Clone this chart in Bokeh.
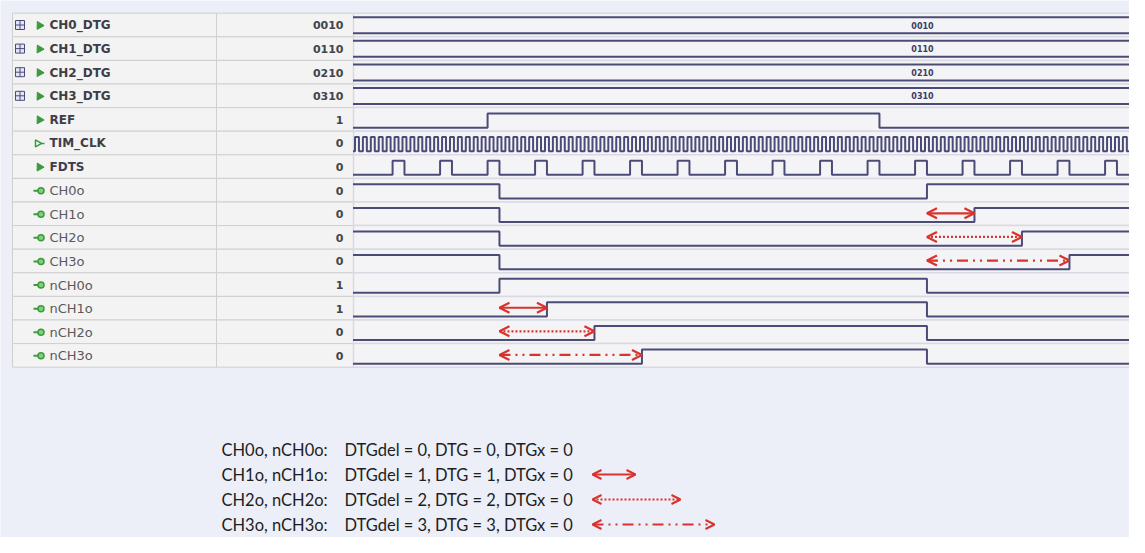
from bokeh.plotting import figure
from bokeh.models import Range1d, Arrow, OpenHead
from bokeh.core.properties import value
from bokeh.embed import file_html
from bokeh.resources import INLINE

# ---------------- data ----------------
signal_names = ["CH0_DTG", "CH1_DTG", "CH2_DTG", "CH3_DTG", "REF", "TIM_CLK", "FDTS",
                "CH0o", "CH1o", "CH2o", "CH3o", "nCH0o", "nCH1o", "nCH2o", "nCH3o"]
signal_values = ["0010", "0110", "0210", "0310", "1", "0", "0",
                 "0", "0", "0", "0", "1", "1", "0", "0"]
signal_kinds = ["bus", "bus", "bus", "bus", "in", "clk", "in",
                "out", "out", "out", "out", "out", "out", "out", "out"]
bus_values = ["0010", "0110", "0210", "0310"]

# time measured in TIM_CLK periods
clk_period = 1.0
clk_phase = 0.25
ref_init = 0
ref_edges = [17, 66.5]
fdts_rise = [5, 11, 17, 23, 29, 35, 41, 47, 53, 59, 65, 71, 77, 83, 89, 95]
fdts_high = 1.5
out_names = ["CH0o", "CH1o", "CH2o", "CH3o", "nCH0o", "nCH1o", "nCH2o", "nCH3o"]
out_init = [1, 1, 1, 1, 0, 0, 0, 0]
out_edges = [[18.5, 72.5], [18.5, 78.5], [18.5, 84.5], [18.5, 90.5],
             [18.5, 72.5], [24.5, 72.5], [30.5, 72.5], [36.5, 72.5]]

# dead-time arrows
dt_rows = ["CH1o", "CH2o", "CH3o", "nCH1o", "nCH2o", "nCH3o"]
dt_start = [72.5, 72.5, 72.5, 18.5, 18.5, 18.5]
dt_end = [78.5, 84.5, 90.5, 24.5, 30.5, 36.5]
dt_style = ["solid", "dotted", "dashdot", "solid", "dotted", "dashdot"]

legend_labels = ["CH0o, nCH0o:", "CH1o, nCH1o:", "CH2o, nCH2o:", "CH3o, nCH3o:"]
legend_desc = ["DTGdel = 0, DTG = 0, DTGx = 0", "DTGdel = 1, DTG = 1, DTGx = 0",
               "DTGdel = 2, DTG = 2, DTGx = 0", "DTGdel = 3, DTG = 3, DTGx = 0"]
legend_style = [None, "solid", "dotted", "dashdot"]

# ---------------- layout helpers (page pixels -> data units) ----------------
X0, XS = 360.5, 47.5 / 6.0      # px of t=0, px per clock period
Y0, YS = 20.7, 23.6             # px of row 0 top, px per row


def px2t(px):
    return (px - X0) / XS


def py2r(py):
    return (py - Y0) / YS


W, H = 1129, 537
p = figure(width=W, height=H, output_backend="svg", toolbar_location=None,
           x_range=Range1d(px2t(8), px2t(8 + W)), y_range=Range1d(py2r(8 + H), py2r(8)),
           min_border=0, x_axis_location=None, y_axis_location=None)
p.grid.visible = False
p.outline_line_color = None
BG = "#eceff7"
p.background_fill_color = BG
p.border_fill_color = BG

n = len(signal_names)
rows = list(range(n))
t_end = px2t(1160)

WAVE = "#4b4b78"
RED = "#d8332c"
GREEN = "#3c9a3c"

# table cells
p.quad(left=[px2t(20)] * n, right=[px2t(224)] * n, top=rows, bottom=[r + 1 for r in rows],
       fill_color="#f3f3f3", line_color="#cfcfcf", line_width=1)
p.quad(left=[px2t(224)] * n, right=[px2t(361)] * n, top=rows, bottom=[r + 1 for r in rows],
       fill_color="#f3f3f3", line_color="#cfcfcf", line_width=1)
p.quad(left=[px2t(361)] * n, right=[t_end] * n, top=rows, bottom=[r + 1 for r in rows],
       fill_color="#f4f4f6", line_color="#d9d9e3", line_width=1.5)

# names / values
top_rows = [i for i, k in enumerate(signal_kinds) if k != "out"]
o_rows = [i for i, k in enumerate(signal_kinds) if k == "out"]
p.text(x=[px2t(57)] * len(top_rows), y=[r + 0.52 for r in top_rows],
       text=[signal_names[i] for i in top_rows], text_font=value("DejaVu Sans"),
       text_font_size="12px", text_font_style="bold", text_color="#3e3e48",
       text_baseline="middle", text_align="left")
p.text(x=[px2t(57)] * len(o_rows), y=[r + 0.52 for r in o_rows],
       text=[signal_names[i] for i in o_rows], text_font=value("DejaVu Sans"),
       text_font_size="13px", text_color="#5a5a5a",
       text_baseline="middle", text_align="left")
p.text(x=[px2t(351)] * n, y=[r + 0.52 for r in rows], text=signal_values,
       text_font=value("DejaVu Sans"), text_font_size="11px", text_font_style="bold",
       text_color="#44444c", text_baseline="middle", text_align="right")

# icons
bus_rows = [i for i, k in enumerate(signal_kinds) if k == "bus"]
in_rows = [i for i, k in enumerate(signal_kinds) if k in ("bus", "in")]
clk_rows = [i for i, k in enumerate(signal_kinds) if k == "clk"]
p.scatter(x=[px2t(27.5)] * len(bus_rows), y=[r + 0.5 for r in bus_rows], marker="square_cross",
          size=9, line_color="#4a4a7a", fill_color="#e4e7f3", line_width=1)
p.scatter(x=[px2t(47)] * len(in_rows), y=[r + 0.52 for r in in_rows], marker="triangle",
          size=8, angle=0.5, line_color=GREEN, fill_color=GREEN)
p.segment(x0=[px2t(41)] * len(o_rows), x1=[px2t(46)] * len(o_rows),
          y0=[r + 0.52 for r in o_rows], y1=[r + 0.52 for r in o_rows], line_color=GREEN, line_width=2)
p.scatter(x=[px2t(48.5)] * len(o_rows), y=[r + 0.52 for r in o_rows], marker="circle",
          size=6, line_color=GREEN, fill_color="#7fcf7f", line_width=1.5)
p.scatter(x=[px2t(45)] * len(clk_rows), y=[r + 0.52 for r in clk_rows], marker="triangle",
          size=7, angle=-1.5708, line_color=GREEN, fill_color="#f3f3f3", line_width=1.5)
p.segment(x0=[px2t(48)] * len(clk_rows), x1=[px2t(52)] * len(clk_rows),
          y0=[r + 0.52 for r in clk_rows], y1=[r + 0.52 for r in clk_rows], line_color=GREEN, line_width=1.5)


# ---------------- waveforms ----------------
def wave(init, edges, row, hi=0.25, lo=0.85):
    lvl = init
    xs, ys = [0.0], [row + (hi if lvl else lo)]
    for e in edges:
        xs += [e, e]
        ys += [row + (hi if lvl else lo)]
        lvl = 1 - lvl
        ys += [row + (hi if lvl else lo)]
    xs.append(t_end)
    ys.append(row + (hi if lvl else lo))
    return xs, ys


wx, wy = [], []
for r in bus_rows:
    wx += [[0, t_end], [0, t_end]]
    wy += [[r + 0.17, r + 0.17], [r + 0.85, r + 0.85]]
ri = signal_names.index("REF")
a, b = wave(ref_init, ref_edges, ri)
wx.append(a); wy.append(b)
ci = signal_names.index("TIM_CLK")
clk_edges = []
t = clk_phase
while t < t_end:
    clk_edges += [t, t + clk_period / 2]
    t += clk_period
a, b = wave(0, clk_edges, ci)
wx.append(a); wy.append(b)
fi = signal_names.index("FDTS")
f_edges = []
for r_ in fdts_rise:
    f_edges += [r_, r_ + fdts_high]
a, b = wave(0, f_edges, fi)
wx.append(a); wy.append(b)
for nm, ini, ed in zip(out_names, out_init, out_edges):
    a, b = wave(ini, ed, signal_names.index(nm))
    wx.append(a); wy.append(b)

p.multi_line(xs=wx, ys=wy, line_color=WAVE, line_width=2)

p.text(x=[px2t(930)] * len(bus_rows), y=[r + 0.5 for r in bus_rows], text=bus_values,
       text_font=value("DejaVu Sans"), text_font_size="8px", text_font_style="bold",
       text_color="#3c3c66", text_align="center", text_baseline="middle")

DASH = {"solid": "solid", "dotted": "2 2", "dashdot": "11 5 2 5 2 5"}

for nm, s, e, st in zip(dt_rows, dt_start, dt_end, dt_style):
    r = signal_names.index(nm)
    p.add_layout(Arrow(x_start=s, x_end=e, y_start=r + 0.48, y_end=r + 0.48,
                       line_color=RED, line_width=2.2, line_dash=DASH[st],
                       start=OpenHead(size=10, line_color=RED, line_width=2.2),
                       end=OpenHead(size=10, line_color=RED, line_width=2.2)))

# ---------------- legend ----------------
leg_y = [py2r(457), py2r(482), py2r(507), py2r(532)]
p.text(x=[px2t(229)] * 4, y=leg_y, text=legend_labels, text_font=value("Lato"),
       text_font_size="16.5px", text_color="#1e1e1e", text_baseline="middle", text_align="left")
p.text(x=[px2t(352)] * 4, y=leg_y, text=legend_desc, text_font=value("Lato"),
       text_font_size="16.5px", text_color="#1e1e1e", text_baseline="middle", text_align="left")
leg_arrow_end = [None, 643, 688, 722]
for yy, st, xe in zip(leg_y, legend_style, leg_arrow_end):
    if st is None:
        continue
    p.add_layout(Arrow(x_start=px2t(600), x_end=px2t(xe), y_start=yy, y_end=yy,
                       line_color=RED, line_width=2, line_dash=DASH[st],
                       start=OpenHead(size=9, line_color=RED, line_width=2),
                       end=OpenHead(size=9, line_color=RED, line_width=2)))

open("out.html", "w").write(file_html(p, INLINE, "DTG waveforms"))
